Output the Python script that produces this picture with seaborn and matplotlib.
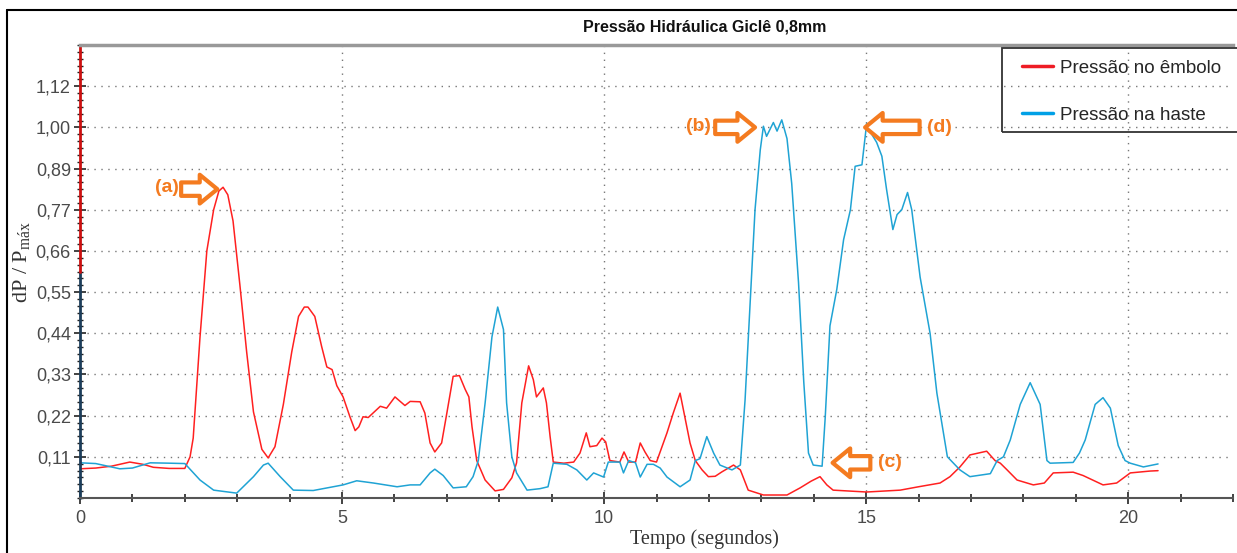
import matplotlib
matplotlib.use("Agg")
import matplotlib.pyplot as plt
import numpy as np
import pandas as pd
import seaborn as sns
from matplotlib.lines import Line2D
from matplotlib.patches import Rectangle
from matplotlib.ticker import MultipleLocator

# Pressão no êmbolo (red)
t_embolo = [0.0, 0.3, 0.6, 0.95, 1.2, 1.4, 1.7, 2.0, 2.1, 2.16, 2.29, 2.42, 2.55, 2.65, 2.73,
            2.82, 2.92, 3.05, 3.18, 3.31, 3.47, 3.59, 3.72, 3.88, 4.04, 4.17, 4.28, 4.35, 4.48,
            4.61, 4.71, 4.81, 4.90, 5.02, 5.15, 5.25, 5.32, 5.40, 5.50, 5.73, 5.85, 6.01, 6.2,
            6.3, 6.49, 6.58, 6.68, 6.77, 6.9, 7.0, 7.12, 7.24, 7.35, 7.42, 7.48, 7.57, 7.73,
            7.92, 8.08, 8.24, 8.33, 8.43, 8.56, 8.65, 8.71, 8.84, 8.9, 8.97, 9.03, 9.23, 9.42,
            9.54, 9.66, 9.73, 9.86, 9.96, 10.03, 10.11, 10.3, 10.38, 10.47, 10.6, 10.69, 10.78,
            10.88, 11.0, 11.2, 11.32, 11.45, 11.55, 11.64, 11.74, 11.87, 11.99, 12.12, 12.25,
            12.47, 12.6, 12.75, 13.04, 13.49, 13.74, 13.95, 14.12, 14.25, 14.37, 15.01, 15.65,
            16.0, 16.41, 16.6, 16.79, 16.98, 17.3, 17.46, 17.56, 17.69, 17.88, 18.19, 18.4,
            18.57, 18.95, 19.14, 19.52, 19.78, 20.04, 20.42, 20.57]
v_embolo = [0.078, 0.080, 0.085, 0.096, 0.090, 0.082, 0.079, 0.079, 0.11, 0.16, 0.43, 0.66, 0.77,
            0.82, 0.83, 0.81, 0.74, 0.57, 0.39, 0.23, 0.13, 0.107, 0.137, 0.25, 0.39, 0.485, 0.51,
            0.51, 0.485, 0.405, 0.35, 0.343, 0.30, 0.27, 0.217, 0.18, 0.19, 0.217, 0.215, 0.245,
            0.24, 0.27, 0.247, 0.258, 0.257, 0.227, 0.147, 0.123, 0.147, 0.227, 0.325, 0.327,
            0.29, 0.27, 0.19, 0.10, 0.048, 0.019, 0.023, 0.054, 0.094, 0.254, 0.353, 0.316, 0.27,
            0.294, 0.254, 0.164, 0.096, 0.093, 0.096, 0.12, 0.174, 0.137, 0.14, 0.16, 0.15, 0.10,
            0.096, 0.123, 0.096, 0.096, 0.147, 0.123, 0.10, 0.096, 0.174, 0.227, 0.28, 0.21,
            0.147, 0.10, 0.075, 0.057, 0.058, 0.07, 0.088, 0.075, 0.021, 0.008, 0.008, 0.027,
            0.045, 0.057, 0.035, 0.021, 0.016, 0.021, 0.03, 0.04, 0.057, 0.083, 0.115, 0.125,
            0.10, 0.093, 0.075, 0.048, 0.035, 0.04, 0.067, 0.069, 0.06, 0.035, 0.04, 0.067,
            0.072, 0.073]

# Pressão na haste (blue)
t_haste = [0.0, 0.3, 0.76, 1.0, 1.34, 1.7, 2.0, 2.29, 2.55, 2.99, 3.31, 3.5, 3.59, 3.82, 4.07,
           4.45, 5.02, 5.28, 5.6, 6.05, 6.3, 6.49, 6.68, 6.77, 6.93, 7.12, 7.37, 7.5, 7.6, 7.73,
           7.86, 7.97, 8.08, 8.14, 8.24, 8.33, 8.53, 8.78, 8.93, 9.03, 9.29, 9.48, 9.67, 9.8,
           9.99, 10.08, 10.3, 10.37, 10.47, 10.6, 10.69, 10.82, 10.94, 11.07, 11.2, 11.45, 11.64,
           11.74, 11.83, 11.96, 12.09, 12.21, 12.44, 12.6, 12.69, 12.79, 12.88, 12.98, 13.04,
           13.1, 13.23, 13.3, 13.39, 13.49, 13.58, 13.71, 13.81, 13.9, 13.99, 14.16, 14.22, 14.31,
           14.44, 14.57, 14.7, 14.79, 14.92, 15.01, 15.07, 15.2, 15.3, 15.39, 15.51, 15.59, 15.68,
           15.79, 15.87, 16.03, 16.22, 16.35, 16.55, 16.79, 16.98, 17.37, 17.5, 17.62, 17.75,
           17.94, 18.13, 18.32, 18.45, 18.51, 18.95, 19.07, 19.18, 19.37, 19.52, 19.66, 19.81,
           19.94, 20.04, 20.29, 20.57]
v_haste = [0.094, 0.092, 0.078, 0.08, 0.094, 0.093, 0.092, 0.048, 0.021, 0.013, 0.057, 0.088,
           0.093, 0.057, 0.021, 0.02, 0.035, 0.046, 0.04, 0.03, 0.035, 0.035, 0.067, 0.077, 0.06,
           0.027, 0.03, 0.057, 0.10, 0.254, 0.43, 0.51, 0.45, 0.254, 0.11, 0.067, 0.021, 0.025,
           0.03, 0.093, 0.09, 0.075, 0.048, 0.067, 0.056, 0.096, 0.096, 0.067, 0.1, 0.094, 0.056,
           0.09, 0.09, 0.08, 0.056, 0.03, 0.048, 0.10, 0.105, 0.164, 0.12, 0.088, 0.075, 0.088,
           0.262, 0.53, 0.77, 0.93, 0.993, 0.966, 1.003, 0.98, 1.01, 0.96, 0.84, 0.575, 0.31, 0.12,
           0.088, 0.085, 0.217, 0.46, 0.557, 0.69, 0.77, 0.886, 0.89, 1.0, 0.98, 0.95, 0.913,
           0.824, 0.717, 0.757, 0.77, 0.816, 0.77, 0.59, 0.44, 0.28, 0.11, 0.075, 0.057, 0.065,
           0.10, 0.11, 0.155, 0.25, 0.308, 0.25, 0.10, 0.093, 0.095, 0.12, 0.155, 0.25, 0.268,
           0.24, 0.14, 0.10, 0.093, 0.083, 0.091]

series_names = ["Pressão no êmbolo", "Pressão na haste"]
series_colors = ["#ff2020", "#1fa3d4"]
y_ticks = [0.11, 0.22, 0.33, 0.44, 0.55, 0.66, 0.77, 0.88, 0.99, 1.10]
y_tick_labels = ["0,11", "0,22", "0,33", "0,44", "0,55", "0,66", "0,77", "0,89", "1,00", "1,12"]
x_ticks = [0, 5, 10, 15, 20]

# marcações (a)-(d): texto, ponta da seta, cauda da seta
marks = {
    "(a)": ((1.66, 0.83), (2.62, 0.825), (1.93, 0.825)),
    "(b)": ((11.8, 0.993), (12.88, 0.99), (12.12, 0.99)),
    "(c)": ((15.45, 0.094), (14.36, 0.094), (15.08, 0.094)),
    "(d)": ((16.4, 0.99), (14.98, 0.99), (16.02, 0.99)),
}

df = pd.concat([
    pd.DataFrame({"t": t_embolo, "v": v_embolo, "serie": series_names[0]}),
    pd.DataFrame({"t": t_haste, "v": v_haste, "serie": series_names[1]}),
])

sns.set_style("white")
plt.rcParams["font.family"] = ["Liberation Sans", "DejaVu Sans"]
plt.rcParams["mathtext.fontset"] = "custom"
plt.rcParams["mathtext.rm"] = "Liberation Serif"
plt.rcParams["mathtext.it"] = "Liberation Serif:italic"

W, H = 1237, 553
fig = plt.figure(figsize=(W / 100, H / 100), dpi=100)
ax = fig.add_axes([80 / W, 55 / H, 1153 / W, 453 / H])

sns.lineplot(
    data=df, x="t", y="v", hue="serie",
    palette=dict(zip(series_names, series_colors)),
    sort=False, estimator=None, linewidth=1.1, legend=False, ax=ax,
)

ax.set_xlim(0, 22)
ax.set_ylim(0, 1.21)

ax.set_xticks(x_ticks)
ax.set_xticklabels([str(x) for x in x_ticks])
ax.xaxis.set_minor_locator(MultipleLocator(1))
ax.set_yticks(y_ticks)
ax.set_yticklabels(y_tick_labels)
ax.yaxis.set_minor_locator(MultipleLocator(0.11 / 6))

ax.tick_params(which="both", left=True, bottom=True, right=False, top=False)
ax.tick_params(axis="both", which="major", direction="inout", labelsize=13,
               labelcolor="#4a4a4a", color="#222222", width=1.2)
ax.tick_params(axis="x", which="major", length=9, pad=4)
ax.tick_params(axis="x", which="minor", direction="inout", length=6, width=1.2, color="#222222")
ax.tick_params(axis="y", which="major", length=9, pad=2)
ax.tick_params(axis="y", which="minor", direction="inout", length=5, width=1, color="#222222")

ax.grid(True, which="major", linestyle=(0, (1, 4)), color="#777777", linewidth=1)

ax.set_xlabel("Tempo (segundos)", family="Liberation Serif", fontsize=14.5, color="#333333")
ax.xaxis.set_label_coords(0.542, -0.068)
ax.set_ylabel("dP / P$_{\\mathrm{máx}}$", family="Liberation Serif", fontsize=16, color="#333333")
ax.yaxis.set_label_coords(-0.042, 0.52)

ax.set_title("Pressão Hidráulica Giclê 0,8mm", fontsize=11.5, fontweight="bold",
             x=0.542, y=1.012, color="#111111")

# eixo y em duas cores, por baixo das marcas de escala
ax.spines["right"].set_visible(False)
ax.spines["left"].set_visible(False)
ax.spines["top"].set_color("#999999")
ax.spines["top"].set_linewidth(2.5)
ax.spines["bottom"].set_color("#555555")
ax.spines["bottom"].set_linewidth(1.5)
ax.axvline(0, ymin=0, ymax=0.5, color="#1c3d5a", linewidth=2, clip_on=False, zorder=2.4)
ax.axvline(0, ymin=0.5, ymax=1, color="#cc1010", linewidth=2, clip_on=False, zorder=2.4)

# setas e rótulos laranja
orange = "#f47b20"
for label, (text_pos, tip, tail) in marks.items():
    ax.annotate(
        "", xy=tip, xytext=tail,
        arrowprops=dict(arrowstyle="simple,head_length=0.55,head_width=0.9,tail_width=0.42",
                        mutation_scale=23, fc="white", ec=orange, lw=3,
                        shrinkA=0, shrinkB=0),
    )
    ax.text(*text_pos, label, color=orange, fontsize=14, fontweight="bold",
            ha="center", va="center")

# legenda com moldura cortada pela borda direita
fig.add_artist(Rectangle((1002 / W, 1 - 132 / H), 260 / W, 84 / H, transform=fig.transFigure,
                         fill=False, edgecolor="#333333", linewidth=1.3, clip_on=False))
handles = [Line2D([], [], color=c, linewidth=2.5) for c in ["#ee1c25", "#00a0e6"]]
fig.legend(handles, series_names, loc="upper left", bbox_to_anchor=(1016 / W, 1 - 54 / H),
           frameon=False, fontsize=13.5, borderpad=0.3, handlelength=1.65,
           handletextpad=0.4, labelspacing=1.6, borderaxespad=0)

# moldura externa
fig.add_artist(Line2D([7 / W, 7 / W], [0, 1 - 10 / H], color="black", linewidth=1.5,
                      transform=fig.transFigure))
fig.add_artist(Line2D([7 / W, 1], [1 - 10 / H, 1 - 10 / H], color="black", linewidth=1.5,
                      transform=fig.transFigure))

fig.savefig("out.png", dpi=100)
